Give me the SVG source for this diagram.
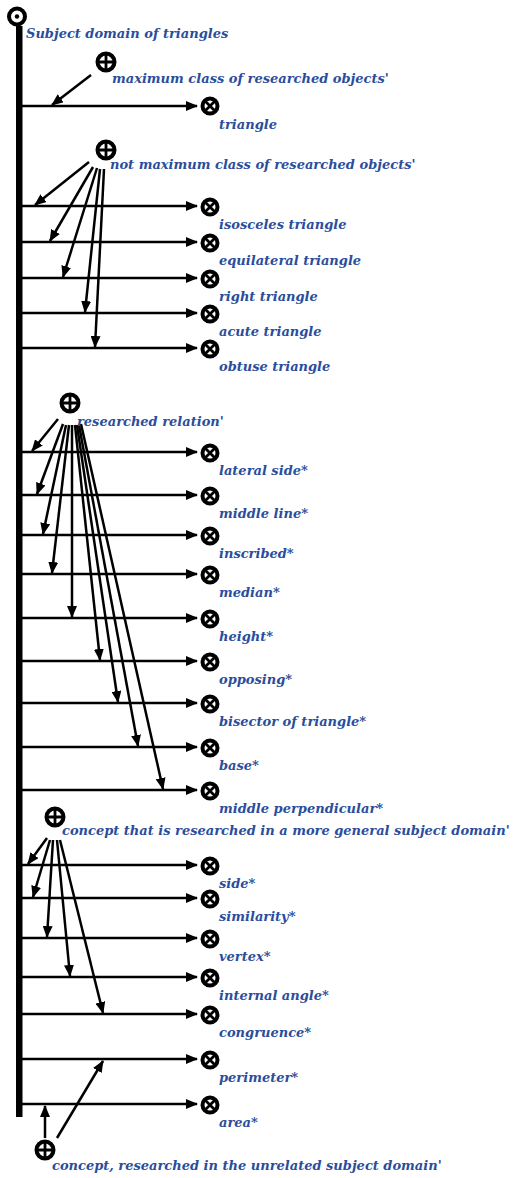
<svg xmlns="http://www.w3.org/2000/svg" width="514" height="1178" viewBox="0 0 514 1178">
<defs>
<style>
.lbl{font-family:"DejaVu Serif","Liberation Serif",serif;font-style:italic;font-weight:bold;font-size:13px;fill:#2a4d9c}
.c{stroke:#000;stroke-width:2.5;fill:none}
.ring{fill:#fff;stroke:#000;stroke-width:4}
.x{stroke:#000;stroke-width:2.8}
</style>
<marker id="ah" markerUnits="userSpaceOnUse" markerWidth="12" markerHeight="10" refX="11" refY="5" orient="auto">
<path d="M0,0 L12,5 L0,10 Z" fill="#000"/>
</marker>
<g id="otimes">
<circle r="7.5" class="ring"/>
<path d="M-5,-5 L5,5 M-5,5 L5,-5" class="x"/>
</g>
<g id="oplus">
<circle r="8.5" class="ring"/>
<path d="M-8,0 L8,0 M0,-8 L0,8" class="x"/>
</g>
</defs>
<rect width="514" height="1178" fill="#fff"/>

<g id="root">
<rect x="16" y="26" width="6.5" height="1091" fill="#000"/>
<circle cx="17" cy="16.5" r="8" fill="#fff" stroke="#000" stroke-width="4"/>
<circle cx="17" cy="16.5" r="2.2" fill="#000"/>
<text class="lbl" x="26" y="38">Subject domain of triangles</text>
</g>

<g id="connectors" class="c" marker-end="url(#ah)">
<line x1="21" y1="106" x2="197" y2="106"/>
<line x1="21" y1="206" x2="197" y2="206"/>
<line x1="21" y1="242" x2="197" y2="242"/>
<line x1="21" y1="278" x2="197" y2="278"/>
<line x1="21" y1="313" x2="197" y2="313"/>
<line x1="21" y1="348" x2="197" y2="348"/>
<line x1="21" y1="452" x2="197" y2="452"/>
<line x1="21" y1="495" x2="197" y2="495"/>
<line x1="21" y1="535" x2="197" y2="535"/>
<line x1="21" y1="574" x2="197" y2="574"/>
<line x1="21" y1="618" x2="197" y2="618"/>
<line x1="21" y1="661" x2="197" y2="661"/>
<line x1="21" y1="703" x2="197" y2="703"/>
<line x1="21" y1="747" x2="197" y2="747"/>
<line x1="21" y1="790" x2="197" y2="790"/>
<line x1="21" y1="865" x2="197" y2="865"/>
<line x1="21" y1="898" x2="197" y2="898"/>
<line x1="21" y1="938" x2="197" y2="938"/>
<line x1="21" y1="977" x2="197" y2="977"/>
<line x1="21" y1="1014" x2="197" y2="1014"/>
<line x1="21" y1="1059" x2="197" y2="1059"/>
<line x1="21" y1="1104" x2="197" y2="1104"/>

<line x1="91" y1="75" x2="52" y2="105"/>

<line x1="89" y1="162" x2="35" y2="205"/>
<line x1="93" y1="167" x2="50" y2="241"/>
<line x1="97" y1="168" x2="63" y2="277"/>
<line x1="100" y1="169" x2="85" y2="312"/>
<line x1="104" y1="169" x2="95" y2="347"/>

<line x1="58" y1="419" x2="32" y2="451"/>
<line x1="63" y1="424" x2="37" y2="494"/>
<line x1="66" y1="425" x2="43" y2="534"/>
<line x1="69" y1="425" x2="52" y2="573"/>
<line x1="72" y1="425" x2="72" y2="617"/>
<line x1="75" y1="425" x2="100" y2="660"/>
<line x1="77" y1="425" x2="118" y2="702"/>
<line x1="79" y1="425" x2="138" y2="746"/>
<line x1="81" y1="424" x2="163" y2="789"/>

<line x1="47" y1="838" x2="28" y2="864"/>
<line x1="50" y1="840" x2="33" y2="897"/>
<line x1="53" y1="840" x2="47" y2="937"/>
<line x1="57" y1="840" x2="70" y2="976"/>
<line x1="60" y1="840" x2="103" y2="1013"/>

<line x1="45" y1="1138" x2="45" y2="1106"/>
<line x1="57" y1="1138" x2="103" y2="1061"/>
</g>

<g id="n_max"><use href="#oplus" x="106" y="62"/><text class="lbl" x="112" y="83">maximum class of researched objects'</text></g>
<g id="n_notmax"><use href="#oplus" x="106" y="150"/><text class="lbl" x="110" y="169">not maximum class of researched objects'</text></g>
<g id="n_rel"><use href="#oplus" x="70" y="403"/><text class="lbl" x="77" y="426">researched relation'</text></g>
<g id="n_gen"><use href="#oplus" x="55" y="817"/><text class="lbl" x="62" y="835">concept that is researched in a more general subject domain'</text></g>
<g id="n_unrel"><use href="#oplus" x="45" y="1150"/><text class="lbl" x="52" y="1170">concept, researched in the unrelated subject domain'</text></g>

<g id="n_triangle"><use href="#otimes" x="210" y="106"/><text class="lbl" x="219" y="129">triangle</text></g>
<g id="n_isosceles"><use href="#otimes" x="210" y="207"/><text class="lbl" x="219" y="229">isosceles triangle</text></g>
<g id="n_equilateral"><use href="#otimes" x="210" y="243"/><text class="lbl" x="219" y="265">equilateral triangle</text></g>
<g id="n_right"><use href="#otimes" x="210" y="279"/><text class="lbl" x="219" y="301">right triangle</text></g>
<g id="n_acute"><use href="#otimes" x="210" y="314"/><text class="lbl" x="219" y="336">acute triangle</text></g>
<g id="n_obtuse"><use href="#otimes" x="210" y="349"/><text class="lbl" x="219" y="371">obtuse triangle</text></g>
<g id="n_lateral"><use href="#otimes" x="210" y="453"/><text class="lbl" x="219" y="475">lateral side*</text></g>
<g id="n_middleline"><use href="#otimes" x="210" y="496"/><text class="lbl" x="219" y="518">middle line*</text></g>
<g id="n_inscribed"><use href="#otimes" x="210" y="536"/><text class="lbl" x="219" y="558">inscribed*</text></g>
<g id="n_median"><use href="#otimes" x="210" y="575"/><text class="lbl" x="219" y="597">median*</text></g>
<g id="n_height"><use href="#otimes" x="210" y="619"/><text class="lbl" x="219" y="641">height*</text></g>
<g id="n_opposing"><use href="#otimes" x="210" y="662"/><text class="lbl" x="219" y="684">opposing*</text></g>
<g id="n_bisector"><use href="#otimes" x="210" y="704"/><text class="lbl" x="219" y="726">bisector of triangle*</text></g>
<g id="n_base"><use href="#otimes" x="210" y="748"/><text class="lbl" x="219" y="770">base*</text></g>
<g id="n_midperp"><use href="#otimes" x="210" y="791"/><text class="lbl" x="219" y="813">middle perpendicular*</text></g>
<g id="n_side"><use href="#otimes" x="210" y="866"/><text class="lbl" x="219" y="888">side*</text></g>
<g id="n_similarity"><use href="#otimes" x="210" y="899"/><text class="lbl" x="219" y="921">similarity*</text></g>
<g id="n_vertex"><use href="#otimes" x="210" y="939"/><text class="lbl" x="219" y="961">vertex*</text></g>
<g id="n_internal"><use href="#otimes" x="210" y="978"/><text class="lbl" x="219" y="1000">internal angle*</text></g>
<g id="n_congruence"><use href="#otimes" x="210" y="1015"/><text class="lbl" x="219" y="1037">congruence*</text></g>
<g id="n_perimeter"><use href="#otimes" x="210" y="1060"/><text class="lbl" x="219" y="1082">perimeter*</text></g>
<g id="n_area"><use href="#otimes" x="210" y="1105"/><text class="lbl" x="219" y="1127">area*</text></g>
</svg>
